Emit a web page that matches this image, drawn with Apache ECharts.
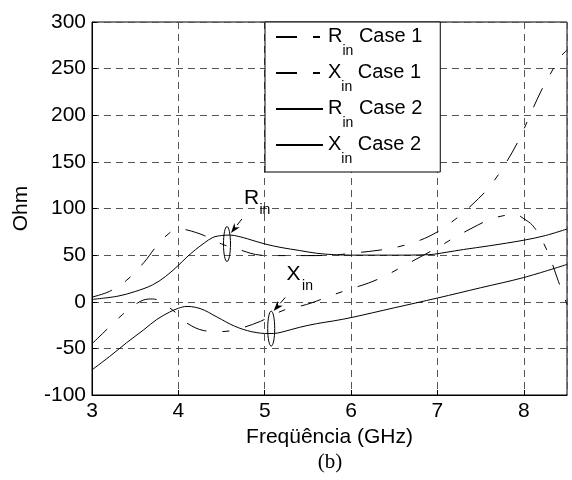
<!DOCTYPE html>
<html><head><meta charset="utf-8">
<script src="https://cdn.jsdelivr.net/npm/echarts@6/dist/echarts.min.js"></script>
<style>html,body{margin:0;padding:0;background:#fff}#c{width:572px;height:480px}</style>
</head><body><div id="c"></div>
<script>
// ---- data ----
const seriesNames = ['Rin Case 1', 'Xin Case 1', 'Rin Case 2', 'Xin Case 2'];

const rin1Freq = [3.0, 3.2, 3.4, 3.6, 3.75, 3.9, 4.0, 4.1, 4.3, 4.5, 4.7, 4.95, 5.2, 5.5, 5.8, 6.0, 6.3, 6.55, 6.8, 7.0, 7.2, 7.4, 7.6, 7.8, 7.95, 8.1, 8.2, 8.3, 8.42, 8.5];
const rin1Val  = [5, 11, 23, 42, 60, 74, 78, 77, 71, 62, 56, 50, 49.5, 49.5, 50, 52, 55, 59, 66, 75, 88, 104, 123, 150, 175, 206, 226, 243, 262, 270];

const xin1Freq = [3.0, 3.18, 3.35, 3.5, 3.6, 3.7, 3.8, 3.9, 4.0, 4.1, 4.3, 4.5, 4.7, 4.95, 5.1, 5.25, 5.4, 5.55, 5.75, 6.0, 6.2, 6.4, 6.6, 6.8, 7.0, 7.2, 7.4, 7.6, 7.75, 7.9, 8.0, 8.1, 8.2, 8.3, 8.4, 8.5];
const xin1Val  = [-45, -29, -14, -3, 2, 3, 0.5, -6.5, -14, -23, -31, -32, -29, -21, -14, -8, -5, -1, 6, 14, 20, 28, 38, 48, 58, 69, 79, 88, 92, 94, 89, 82, 68, 48, 22, -3];

const rin2Freq = [3.0, 3.3, 3.5, 3.7, 3.85, 4.0, 4.1, 4.2, 4.3, 4.4, 4.5, 4.6, 4.7, 4.8, 5.0, 5.2, 5.4, 5.6, 5.8, 6.0, 6.5, 6.9, 7.1, 7.3, 7.6, 8.0, 8.25, 8.5];
const rin2Val  = [2.5, 6, 11, 18, 27, 39, 48, 56, 63, 69, 71, 71.5, 70, 67.5, 62, 58, 55, 52, 50.5, 50, 50, 50.5, 53, 56, 60, 66, 71, 78];

const xin2Freq = [3.0, 3.2, 3.4, 3.6, 3.75, 3.9, 4.0, 4.1, 4.2, 4.3, 4.4, 4.5, 4.6, 4.7, 4.8, 4.9, 5.0, 5.1, 5.2, 5.4, 5.6, 5.8, 6.0, 6.5, 7.0, 7.5, 8.0, 8.5];
const xin2Val  = [-73, -59, -44, -30, -19, -11, -7, -5, -6, -9, -14, -19, -24, -28, -31, -33, -34, -34, -32.5, -27.5, -23.5, -20.5, -17, -6.5, 4, 15, 26, 40];

const xMin = 3, xMax = 8.5, xStep = 1;
const yMin = -100, yMax = 300, yStep = 50;
const xName = 'Freqüência (GHz)';
const yName = 'Ohm';
const caption = '(b)';

// annotation anchors in data space
const annR = { ellipse: [4.563, 61.9], tail: [4.736, 88.8], tip: [4.609, 73.8], label: [4.759, 110.7], sym: 'R' };
const annX = { ellipse: [5.075, -28.8], tail: [5.238, 4.6], tip: [5.103, -9.8], label: [5.253, 29.3], sym: 'X' };

// ---- chart ----
const F = '"Liberation Sans", Arial, Helvetica, sans-serif';
const pair = (xs, ys) => xs.map((x, i) => [x, ys[i]]);
const dashed = [21, 16, 7, 16];
const chart = echarts.init(document.getElementById('c'), null, { renderer: 'canvas' });

function mkSeries(name, xs, ys, isDashed) {
  return {
    name, type: 'line', data: pair(xs, ys), symbol: 'none', smooth: 0.35,
    lineStyle: { color: '#000', width: 1, type: isDashed ? dashed : 'solid' },
    itemStyle: { color: '#000' }, z: 3, animation: false
  };
}

const rich = {
  m: { fontFamily: F, fontSize: 20, lineHeight: 22, color: '#000', verticalAlign: 'top' },
  s: { fontFamily: F, fontSize: 14, lineHeight: 14, color: '#000', verticalAlign: 'top', padding: [18, 0, 0, 0] }
};

chart.setOption({
  animation: false,
  backgroundColor: '#fff',
  grid: { left: 92, right: 5, top: 22, bottom: 85, show: true, borderColor: '#000', borderWidth: 1, backgroundColor: 'transparent' },
  xAxis: {
    type: 'value', min: xMin, max: xMax, interval: xStep,
    name: xName, nameLocation: 'middle', nameGap: 30,
    nameTextStyle: { fontFamily: F, fontSize: 21, color: '#000' },
    axisLine: { show: true, onZero: false, lineStyle: { color: '#000', width: 1 } },
    axisTick: { show: true, inside: true, length: 5, lineStyle: { color: '#000' } },
    axisLabel: { fontFamily: F, fontSize: 21, color: '#000', margin: 6, showMaxLabel: false },
    splitLine: { show: true, lineStyle: { color: '#555', type: [7, 5], width: 1 } }
  },
  yAxis: {
    type: 'value', min: yMin, max: yMax, interval: yStep,
    name: yName, nameLocation: 'middle', nameGap: 60, nameRotate: 90,
    nameTextStyle: { fontFamily: F, fontSize: 21, color: '#000' },
    axisLine: { show: true, onZero: false, lineStyle: { color: '#000', width: 1 } },
    axisTick: { show: true, inside: true, length: 5, lineStyle: { color: '#000' } },
    axisLabel: { fontFamily: F, fontSize: 21, color: '#000', margin: 6 },
    splitLine: { show: true, lineStyle: { color: '#555', type: [7, 5], width: 1 } }
  },
  legend: {
    show: true,
    orient: 'vertical', left: 265, top: 22,
    padding: [4, 18, 6, 10], itemGap: 4, itemWidth: 47, itemHeight: 14,
    backgroundColor: '#fff', borderColor: '#000', borderWidth: 1,
    data: seriesNames,
    itemStyle: { opacity: 0 },
    formatter: function (n) { return '{m|' + n.charAt(0) + '}{s|in}{m| ' + n.slice(4) + '}'; },
    textStyle: { color: '#000', rich: rich },
    z: 20
  },
  series: [
    mkSeries(seriesNames[0], rin1Freq, rin1Val, true),
    mkSeries(seriesNames[1], xin1Freq, xin1Val, true),
    mkSeries(seriesNames[2], rin2Freq, rin2Val, false),
    mkSeries(seriesNames[3], xin2Freq, xin2Val, false)
  ]
});

function annotation(a) {
  const px = p => chart.convertToPixel({ gridIndex: 0 }, p);
  const e = px(a.ellipse), t = px(a.tail), h = px(a.tip), l = px(a.label);
  const dx = h[0] - t[0], dy = h[1] - t[1], len = Math.hypot(dx, dy);
  const ux = dx / len, uy = dy / len, hl = 10, hw = 3.5;
  const bx = h[0] - ux * hl, by = h[1] - uy * hl;
  return [
    { type: 'ellipse', shape: { cx: e[0], cy: e[1], rx: 3.5, ry: 17.5 }, style: { fill: null, stroke: '#000', lineWidth: 1 }, z: 10 },
    { type: 'line', shape: { x1: t[0], y1: t[1], x2: bx, y2: by }, style: { stroke: '#000', lineWidth: 1 }, z: 10 },
    { type: 'polygon', shape: { points: [[h[0], h[1]], [bx - uy * hw, by + ux * hw], [bx + ux * 3, by + uy * 3], [bx + uy * hw, by - ux * hw]] }, style: { fill: '#000' }, z: 10 },
    { type: 'text', x: l[0], y: l[1], style: { text: a.sym, font: '21px ' + F, fill: '#000', textVerticalAlign: 'middle' }, z: 10 },
    { type: 'text', x: l[0] + 15.5, y: l[1] + 11.5, style: { text: 'in', font: '14px ' + F, fill: '#000', textVerticalAlign: 'middle' }, z: 10 }
  ];
}

chart.setOption({
  graphic: [
    ...annotation(annR),
    ...annotation(annX),
    { type: 'text', x: 330, y: 462, style: { text: caption, font: '21px "Liberation Serif", "Times New Roman", serif', fill: '#000', textAlign: 'center', textVerticalAlign: 'middle' } }
  ]
});
</script></body></html>
